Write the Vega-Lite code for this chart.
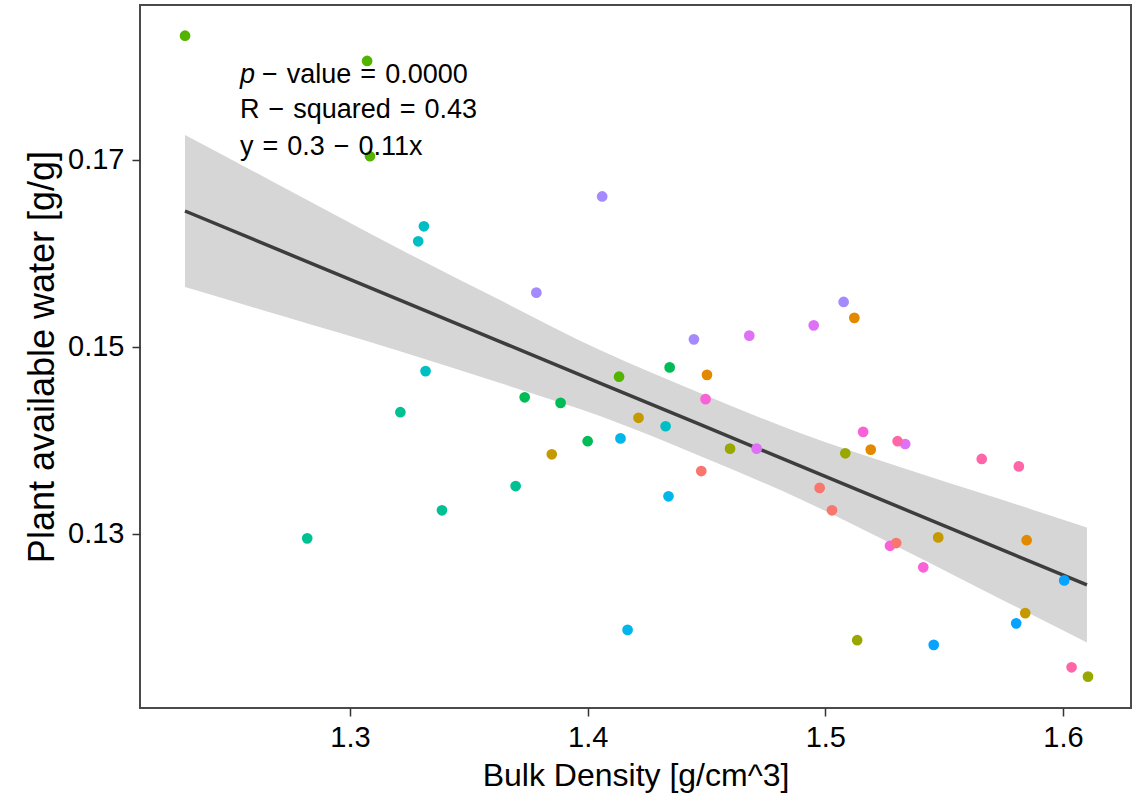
{
  "$schema": "https://vega.github.io/schema/vega-lite/v6.json",
  "width": 991,
  "height": 703,
  "autosize": "none",
  "padding": {"left": 140, "top": 5, "right": 14, "bottom": 89},
  "background": "white",
  "config": {
    "view": {"stroke": "#4a4a4a", "strokeWidth": 2},
    "font": "Liberation Sans",
    "axis": {"labelFont": "Liberation Sans", "titleFont": "Liberation Sans"}
  },
  "datasets": {
    "pts": [
      {"g": "G05", "x": 1.2306, "y": 0.1833},
      {"g": "G05", "x": 1.3072, "y": 0.1806},
      {"g": "G05", "x": 1.3084, "y": 0.1704},
      {"g": "G05", "x": 1.4132, "y": 0.1468},
      {"g": "G11", "x": 1.4061, "y": 0.1661},
      {"g": "G11", "x": 1.3784, "y": 0.1558},
      {"g": "G11", "x": 1.4447, "y": 0.1508},
      {"g": "G11", "x": 1.5077, "y": 0.1548},
      {"g": "G08", "x": 1.3311, "y": 0.1629},
      {"g": "G08", "x": 1.3287, "y": 0.1613},
      {"g": "G08", "x": 1.3318, "y": 0.1474},
      {"g": "G08", "x": 1.4328, "y": 0.1415},
      {"g": "G07", "x": 1.3212, "y": 0.1430},
      {"g": "G07", "x": 1.3697, "y": 0.1351},
      {"g": "G07", "x": 1.3387, "y": 0.1325},
      {"g": "G07", "x": 1.2820, "y": 0.1295},
      {"g": "G06", "x": 1.3735, "y": 0.1446},
      {"g": "G06", "x": 1.3886, "y": 0.1440},
      {"g": "G06", "x": 1.4000, "y": 0.1399},
      {"g": "G06", "x": 1.4345, "y": 0.1478},
      {"g": "G03", "x": 1.4214, "y": 0.1424},
      {"g": "G03", "x": 1.3849, "y": 0.1385},
      {"g": "G03", "x": 1.5475, "y": 0.1296},
      {"g": "G03", "x": 1.5841, "y": 0.1215},
      {"g": "G02", "x": 1.5122, "y": 0.1531},
      {"g": "G02", "x": 1.4502, "y": 0.1470},
      {"g": "G02", "x": 1.5191, "y": 0.1390},
      {"g": "G02", "x": 1.5847, "y": 0.1293},
      {"g": "G04", "x": 1.4599, "y": 0.1391},
      {"g": "G04", "x": 1.5084, "y": 0.1386},
      {"g": "G04", "x": 1.5134, "y": 0.1186},
      {"g": "G04", "x": 1.6105, "y": 0.1147},
      {"g": "G12", "x": 1.4680, "y": 0.1512},
      {"g": "G12", "x": 1.4951, "y": 0.1523},
      {"g": "G12", "x": 1.4711, "y": 0.1391},
      {"g": "G12", "x": 1.5336, "y": 0.1396},
      {"g": "G13", "x": 1.4496, "y": 0.1444},
      {"g": "G13", "x": 1.5159, "y": 0.1409},
      {"g": "G13", "x": 1.5272, "y": 0.1287},
      {"g": "G13", "x": 1.5412, "y": 0.1264},
      {"g": "G14", "x": 1.5304, "y": 0.1399},
      {"g": "G14", "x": 1.5658, "y": 0.1380},
      {"g": "G14", "x": 1.5814, "y": 0.1372},
      {"g": "G14", "x": 1.6036, "y": 0.1157},
      {"g": "G01", "x": 1.4478, "y": 0.1367},
      {"g": "G01", "x": 1.4976, "y": 0.1349},
      {"g": "G01", "x": 1.5028, "y": 0.1325},
      {"g": "G01", "x": 1.5298, "y": 0.1290},
      {"g": "G09", "x": 1.4138, "y": 0.1402},
      {"g": "G09", "x": 1.4340, "y": 0.1340},
      {"g": "G09", "x": 1.4168, "y": 0.1197},
      {"g": "G10", "x": 1.6005, "y": 0.1250},
      {"g": "G10", "x": 1.5803, "y": 0.1204},
      {"g": "G10", "x": 1.5456, "y": 0.1181}
    ],
    "fit": [
      {"x": 1.23058, "fit": 0.16454, "lo": 0.15641, "hi": 0.17268},
      {"x": 1.27055, "fit": 0.16032, "lo": 0.15337, "hi": 0.16728},
      {"x": 1.32103, "fit": 0.15499, "lo": 0.14953, "hi": 0.16045},
      {"x": 1.36310, "fit": 0.15056, "lo": 0.14612, "hi": 0.15500},
      {"x": 1.40517, "fit": 0.14612, "lo": 0.14259, "hi": 0.14965},
      {"x": 1.44724, "fit": 0.14169, "lo": 0.13832, "hi": 0.14506},
      {"x": 1.48931, "fit": 0.13725, "lo": 0.13371, "hi": 0.14078},
      {"x": 1.53138, "fit": 0.13281, "lo": 0.12848, "hi": 0.13715},
      {"x": 1.57345, "fit": 0.12837, "lo": 0.12304, "hi": 0.13370},
      {"x": 1.61006, "fit": 0.12451, "lo": 0.11835, "hi": 0.13066}
    ],
    "annP": [
      {"x": 1.2537, "y": 0.17824, "label": "p"}
    ],
    "annRest": [
      {"x": 1.2630, "y": 0.17824, "label": "−\u2004value\u2004=\u20040.0000"}
    ],
    "annLines": [
      {"x": 1.2537, "y": 0.17450, "label": "R\u2004−\u2004squared\u2004=\u20040.43"},
      {"x": 1.2537, "y": 0.17054, "label": "y\u2004=\u20040.3\u2004−\u20040.11x"}
    ]
  },
  "layer": [
    {
      "data": {"name": "fit"},
      "mark": {"type": "area", "color": "#d6d6d6", "opacity": 1, "interpolate": "monotone"},
      "encoding": {
        "x": {"field": "x", "type": "quantitative", "scale": {"domain": [1.21165, 1.6286], "nice": false, "zero": false},
          "axis": {
            "title": "Bulk Density [g/cm^3]", "values": [1.3, 1.4, 1.5, 1.6], "format": ".1f",
            "grid": false, "domain": false, "tickColor": "#333333", "tickWidth": 1.5, "tickSize": 8,
            "labelFontSize": 29, "labelColor": "#000000", "labelPadding": 7,
            "titleFontSize": 32, "titleFontWeight": "normal", "titleColor": "#000000", "titlePadding": 8
          }},
        "y": {"field": "lo", "type": "quantitative", "scale": {"domain": [0.11134, 0.18659], "nice": false, "zero": false},
          "axis": {
            "title": "Plant available water [g/g]", "values": [0.13, 0.15, 0.17], "format": ".2f",
            "grid": false, "domain": false, "tickColor": "#333333", "tickWidth": 1.5, "tickSize": 8,
            "labelFontSize": 29, "labelColor": "#000000", "labelPadding": 8,
            "titleFontSize": 36, "titleFontWeight": "normal", "titleColor": "#000000", "titlePadding": 6
          }},
        "y2": {"field": "hi"}
      }
    },
    {
      "data": {"name": "fit"},
      "mark": {"type": "line", "color": "#3d3d3d", "strokeWidth": 3.5},
      "encoding": {
        "x": {"field": "x", "type": "quantitative", "title": "Bulk Density [g/cm^3]"},
        "y": {"field": "fit", "type": "quantitative", "title": "Plant available water [g/g]"}
      }
    },
    {
      "data": {"name": "pts"},
      "mark": {"type": "circle", "size": 115, "opacity": 1},
      "encoding": {
        "x": {"field": "x", "type": "quantitative", "title": "Bulk Density [g/cm^3]"},
        "y": {"field": "y", "type": "quantitative", "title": "Plant available water [g/g]"},
        "color": {
          "field": "g", "type": "nominal", "legend": null,
          "scale": {
            "domain": ["G01", "G02", "G03", "G04", "G05", "G06", "G07", "G08", "G09", "G10", "G11", "G12", "G13", "G14"],
            "range": ["#F8766D", "#E38900", "#C49A00", "#99A800", "#53B400", "#00BC56", "#00C094", "#00BFC4", "#00B6EB", "#06A4FF", "#A58AFF", "#DF70F8", "#FB61D7", "#FF66A8"]
          }
        }
      }
    },
    {
      "data": {"name": "annP"},
      "mark": {"type": "text", "align": "left", "baseline": "alphabetic", "fontSize": 27, "fontStyle": "italic", "color": "#000000"},
      "encoding": {
        "x": {"field": "x", "type": "quantitative", "title": "Bulk Density [g/cm^3]"},
        "y": {"field": "y", "type": "quantitative", "title": "Plant available water [g/g]"},
        "text": {"field": "label"}
      }
    },
    {
      "data": {"name": "annRest"},
      "mark": {"type": "text", "align": "left", "baseline": "alphabetic", "fontSize": 27, "color": "#000000"},
      "encoding": {
        "x": {"field": "x", "type": "quantitative", "title": "Bulk Density [g/cm^3]"},
        "y": {"field": "y", "type": "quantitative", "title": "Plant available water [g/g]"},
        "text": {"field": "label"}
      }
    },
    {
      "data": {"name": "annLines"},
      "mark": {"type": "text", "align": "left", "baseline": "alphabetic", "fontSize": 27, "color": "#000000"},
      "encoding": {
        "x": {"field": "x", "type": "quantitative", "title": "Bulk Density [g/cm^3]"},
        "y": {"field": "y", "type": "quantitative", "title": "Plant available water [g/g]"},
        "text": {"field": "label"}
      }
    }
  ]
}
